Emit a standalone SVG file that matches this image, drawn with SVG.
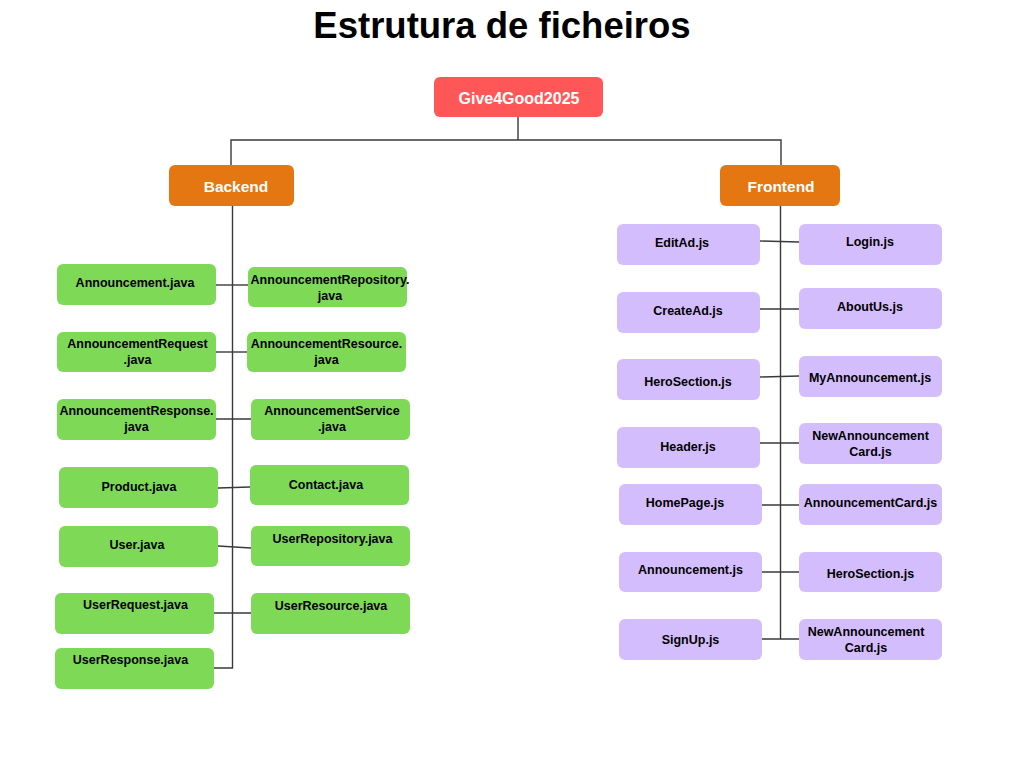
<svg xmlns="http://www.w3.org/2000/svg" width="1024" height="768" viewBox="0 0 1024 768">
<style>
.t{font-family:"Liberation Sans",Arial,sans-serif;font-weight:bold;font-size:12.5px;fill:#000;text-anchor:middle}
.w{font-family:"Liberation Sans",Arial,sans-serif;font-weight:bold;fill:#fff;text-anchor:middle}
.g{fill:#7ed957}
.p{fill:#d4bdfc}
.o{fill:#e47711}
.c line,.c polyline{stroke:#3a3a3a;stroke-width:1.4;fill:none}
</style>
<rect width="1024" height="768" fill="#fff"/>
<text x="502" y="38" font-family="'Liberation Sans',Arial,sans-serif" font-weight="bold" font-size="36.5" text-anchor="middle" fill="#000">Estrutura de ficheiros</text>
<g class="c" id="connectors">
<line x1="518" y1="117" x2="518" y2="140"/>
<polyline points="231,165 231,140 781,140 781,165"/>
<polyline points="232.5,205 232.5,668 214,668"/>
<line x1="780.5" y1="205" x2="780.5" y2="639"/>
<line x1="216" y1="285" x2="248" y2="285"/>
<line x1="216" y1="352" x2="247" y2="352"/>
<line x1="216" y1="419" x2="251" y2="419"/>
<line x1="218" y1="488" x2="250" y2="487"/>
<line x1="218" y1="546" x2="251" y2="548"/>
<line x1="214" y1="613" x2="251" y2="613"/>
<line x1="760" y1="241" x2="799" y2="242"/>
<line x1="760" y1="309" x2="799" y2="309"/>
<line x1="760" y1="377" x2="799" y2="376"/>
<line x1="760" y1="443" x2="799" y2="443"/>
<line x1="762" y1="505" x2="799" y2="505"/>
<line x1="762" y1="572" x2="799" y2="572"/>
<line x1="762" y1="639" x2="799" y2="639"/>
</g>
<g id="root"><rect x="434" y="77" width="169" height="40" rx="6" fill="#ff5757"/><text class="w" x="519" y="104" font-size="16">Give4Good2025</text></g>
<g id="backend"><rect class="o" x="169" y="165" width="125" height="41" rx="6"/><text class="w" x="236" y="192" font-size="15.5">Backend</text></g>
<g id="frontend"><rect class="o" x="720" y="165" width="120" height="41" rx="6"/><text class="w" x="781" y="192" font-size="15.5">Frontend</text></g>

<g id="announcement-java"><rect class="g" x="57" y="264" width="159" height="41" rx="6"/><text class="t" x="135" y="287">Announcement.java</text></g>
<g id="announcement-repository"><rect class="g" x="248" y="267" width="159" height="40" rx="6"/><text class="t" x="330" y="284">AnnouncementRepository.</text><text class="t" x="330" y="300">java</text></g>
<g id="announcement-request"><rect class="g" x="57" y="332" width="159" height="40" rx="6"/><text class="t" x="137.5" y="348">AnnouncementRequest</text><text class="t" x="137.5" y="364">.java</text></g>
<g id="announcement-resource"><rect class="g" x="247" y="332" width="159" height="40" rx="6"/><text class="t" x="326.5" y="348">AnnouncementResource.</text><text class="t" x="326.5" y="364">java</text></g>
<g id="announcement-response"><rect class="g" x="57" y="399" width="159" height="41" rx="6"/><text class="t" x="136.5" y="415">AnnouncementResponse.</text><text class="t" x="136.5" y="431">java</text></g>
<g id="announcement-service"><rect class="g" x="251" y="399" width="159" height="41" rx="6"/><text class="t" x="332" y="415">AnnouncementService</text><text class="t" x="332" y="431">.java</text></g>
<g id="product-java"><rect class="g" x="59" y="467" width="159" height="41" rx="6"/><text class="t" x="139" y="491">Product.java</text></g>
<g id="contact-java"><rect class="g" x="250" y="465" width="159" height="40" rx="6"/><text class="t" x="326" y="489">Contact.java</text></g>
<g id="user-java"><rect class="g" x="59" y="526" width="159" height="41" rx="6"/><text class="t" x="137" y="549">User.java</text></g>
<g id="user-repository"><rect class="g" x="251" y="526" width="159" height="40" rx="6"/><text class="t" x="332.5" y="543">UserRepository.java</text></g>
<g id="user-request"><rect class="g" x="55" y="593" width="159" height="41" rx="6"/><text class="t" x="135.5" y="609">UserRequest.java</text></g>
<g id="user-resource"><rect class="g" x="251" y="593" width="159" height="41" rx="6"/><text class="t" x="331" y="610">UserResource.java</text></g>
<g id="user-response"><rect class="g" x="55" y="648" width="159" height="41" rx="6"/><text class="t" x="130.5" y="664">UserResponse.java</text></g>

<g id="editad"><rect class="p" x="617" y="224" width="143" height="41" rx="6"/><text class="t" x="682" y="247">EditAd.js</text></g>
<g id="login"><rect class="p" x="799" y="224" width="143" height="41" rx="6"/><text class="t" x="870" y="246">Login.js</text></g>
<g id="createad"><rect class="p" x="617" y="292" width="143" height="41" rx="6"/><text class="t" x="688" y="315">CreateAd.js</text></g>
<g id="aboutus"><rect class="p" x="799" y="288" width="143" height="41" rx="6"/><text class="t" x="870" y="311">AboutUs.js</text></g>
<g id="herosection-1"><rect class="p" x="617" y="359" width="143" height="41" rx="6"/><text class="t" x="688" y="386">HeroSection.js</text></g>
<g id="myannouncement"><rect class="p" x="799" y="356" width="143" height="41" rx="6"/><text class="t" x="870" y="382">MyAnnouncement.js</text></g>
<g id="header"><rect class="p" x="617" y="427" width="143" height="41" rx="6"/><text class="t" x="688" y="451">Header.js</text></g>
<g id="newannouncementcard-1"><rect class="p" x="799" y="423" width="143" height="41" rx="6"/><text class="t" x="870.5" y="440">NewAnnouncement</text><text class="t" x="870.5" y="456">Card.js</text></g>
<g id="homepage"><rect class="p" x="619" y="484" width="143" height="41" rx="6"/><text class="t" x="685" y="507">HomePage.js</text></g>
<g id="announcementcard"><rect class="p" x="799" y="484" width="143" height="41" rx="6"/><text class="t" x="870.5" y="507">AnnouncementCard.js</text></g>
<g id="announcement-js"><rect class="p" x="619" y="552" width="143" height="40" rx="6"/><text class="t" x="690.5" y="574">Announcement.js</text></g>
<g id="herosection-2"><rect class="p" x="799" y="552" width="143" height="40" rx="6"/><text class="t" x="870.5" y="578">HeroSection.js</text></g>
<g id="signup"><rect class="p" x="619" y="619" width="143" height="41" rx="6"/><text class="t" x="690.5" y="644">SignUp.js</text></g>
<g id="newannouncementcard-2"><rect class="p" x="799" y="619" width="143" height="41" rx="6"/><text class="t" x="866" y="636">NewAnnouncement</text><text class="t" x="866" y="652">Card.js</text></g>
</svg>
